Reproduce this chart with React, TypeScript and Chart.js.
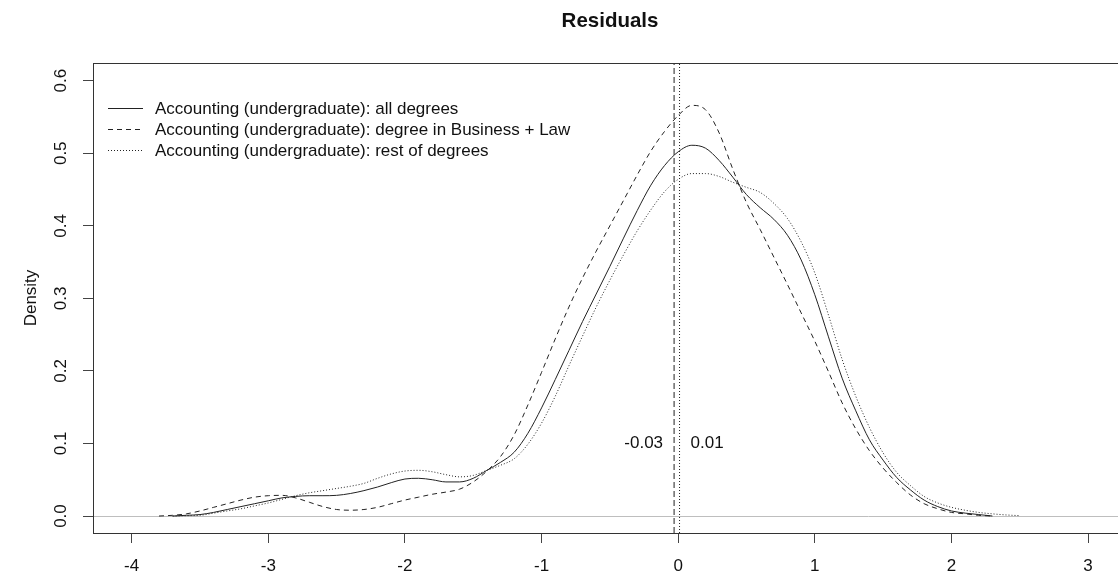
import React, { useEffect, useRef } from "react";
import { Chart, registerables } from "chart.js";

Chart.register(...registerables);

const titleText = "Residuals";
const yAxisTitle = "Density";
const xTicks = [-4, -3, -2, -1, 0, 1, 2, 3];
const yTicks = [0, 0.1, 0.2, 0.3, 0.4, 0.5, 0.6];
const xRange = [-4.283, 3.285];
const yRange = [-0.0234, 0.6244];

const seriesNames = [
  "Accounting (undergraduate): all degrees",
  "Accounting (undergraduate): degree in Business + Law",
  "Accounting (undergraduate): rest of degrees",
];

const xs = [
  -3.8, -3.7, -3.6, -3.5, -3.4, -3.3, -3.2, -3.1, -3.0, -2.9, -2.8, -2.7, -2.6, -2.5, -2.4, -2.3,
  -2.2, -2.1, -2.0, -1.9, -1.8, -1.7, -1.6, -1.5, -1.4, -1.3, -1.2, -1.1, -1.0, -0.9, -0.8, -0.7,
  -0.6, -0.5, -0.4, -0.3, -0.2, -0.1, 0.0, 0.1, 0.2, 0.3, 0.4, 0.5, 0.6, 0.7, 0.8, 0.9,
  1.0, 1.1, 1.2, 1.3, 1.4, 1.5, 1.6, 1.7, 1.8, 1.9, 2.0, 2.1, 2.2, 2.3, 2.4, 2.5,
];

const allDegrees = [
  null, 0.0, 0.001, 0.002, 0.005, 0.009, 0.013, 0.017, 0.021, 0.025, 0.027, 0.028, 0.028, 0.0285, 0.031, 0.035,
  0.04, 0.046, 0.051, 0.052, 0.05, 0.047, 0.047, 0.052, 0.063, 0.074, 0.088, 0.114, 0.149, 0.188, 0.228, 0.268,
  0.306, 0.344, 0.383, 0.421, 0.456, 0.483, 0.502, 0.511, 0.507, 0.49, 0.467, 0.443, 0.425, 0.409, 0.387, 0.353,
  0.305, 0.247, 0.19, 0.145, 0.105, 0.077, 0.053, 0.036, 0.022, 0.013, 0.007, 0.004, 0.002, 0.0, null, null,
];

const businessLaw = [
  0.0, 0.001, 0.003, 0.007, 0.012, 0.017, 0.022, 0.026, 0.028, 0.0285, 0.025, 0.019, 0.013, 0.009, 0.008, 0.009,
  0.012, 0.017, 0.022, 0.026, 0.03, 0.033, 0.037, 0.047, 0.062, 0.082, 0.112, 0.153, 0.198, 0.244, 0.288, 0.328,
  0.365, 0.4, 0.435, 0.47, 0.503, 0.53, 0.552, 0.566, 0.56, 0.528, 0.478, 0.432, 0.395, 0.357, 0.319, 0.28,
  0.241, 0.199, 0.156, 0.12, 0.09, 0.066, 0.046, 0.029, 0.017, 0.01, 0.005, 0.003, 0.001, 0.0, null, null,
];

const restDegrees = [
  null, 0.0, 0.0005, 0.001, 0.004, 0.007, 0.01, 0.014, 0.018, 0.023, 0.028, 0.032, 0.035, 0.038, 0.041, 0.045,
  0.052, 0.058, 0.062, 0.063, 0.061, 0.057, 0.054, 0.056, 0.063, 0.07, 0.079, 0.099, 0.128, 0.165, 0.207, 0.248,
  0.288, 0.325, 0.36, 0.393, 0.422, 0.447, 0.464, 0.472, 0.472, 0.468, 0.46, 0.453, 0.446, 0.431, 0.41, 0.378,
  0.335, 0.277, 0.216, 0.165, 0.122, 0.087, 0.06, 0.042, 0.027, 0.018, 0.012, 0.008, 0.005, 0.003, 0.0015, 0.0005,
];

const meanValues = [-0.03, 0.01];
const meanLabels = ["-0.03", "0.01"];
const meanLabelY = 0.1;

const FONT = "'Liberation Sans', Arial, Helvetica, sans-serif";
const LINE = "#222";
const dashes = [[], [5, 4], [1, 2]];

function toPoints(vals: (number | null)[]) {
  return xs.map((x, i) => ({ x, y: vals[i] }));
}

const decorPlugin = {
  id: "decor",
  beforeDatasetsDraw(chart: any) {
    const { ctx, chartArea, scales } = chart;
    const y0 = Math.round(scales.y.getPixelForValue(0)) + 0.5;
    ctx.save();
    ctx.strokeStyle = "#bebebe";
    ctx.lineWidth = 1;
    ctx.beginPath();
    ctx.moveTo(chartArea.left, y0);
    ctx.lineTo(chartArea.right, y0);
    ctx.stroke();
    ctx.restore();
  },
  afterDraw(chart: any) {
    const { ctx, chartArea, scales } = chart;
    const { left, top, right, bottom } = chartArea;
    ctx.save();
    ctx.strokeStyle = "#333";
    ctx.lineWidth = 1;
    ctx.strokeRect(Math.round(left) + 0.5, Math.round(top) + 0.5, Math.round(right - left), Math.round(bottom - top));

    ctx.fillStyle = "#111";
    ctx.font = `bold 20.5px ${FONT}`;
    ctx.textAlign = "center";
    ctx.textBaseline = "middle";
    ctx.fillText(titleText, (left + right) / 2, 21);

    ctx.font = `17px ${FONT}`;
    yTicks.forEach((v) => {
      const py = scales.y.getPixelForValue(v);
      ctx.save();
      ctx.translate(61, py);
      ctx.rotate(-Math.PI / 2);
      ctx.textAlign = "center";
      ctx.textBaseline = "middle";
      ctx.fillText(v.toFixed(1), 0, 0);
      ctx.restore();
    });

    ctx.save();
    ctx.translate(31, (top + bottom) / 2);
    ctx.rotate(-Math.PI / 2);
    ctx.textAlign = "center";
    ctx.textBaseline = "middle";
    ctx.font = `17px ${FONT}`;
    ctx.fillText(yAxisTitle, 0, 0);
    ctx.restore();

    const legX0 = left + 15;
    const legX1 = left + 50;
    const legTextX = left + 62;
    seriesNames.forEach((name, i) => {
      const ly = top + 45 + i * 21;
      ctx.save();
      ctx.strokeStyle = LINE;
      ctx.lineWidth = 1;
      ctx.setLineDash(dashes[i]);
      ctx.beginPath();
      ctx.moveTo(legX0, Math.round(ly) + 0.5);
      ctx.lineTo(legX1, Math.round(ly) + 0.5);
      ctx.stroke();
      ctx.restore();
      ctx.textAlign = "left";
      ctx.textBaseline = "middle";
      ctx.font = `17px ${FONT}`;
      ctx.fillText(name, legTextX, ly + 1);
    });

    const ly = scales.y.getPixelForValue(meanLabelY);
    ctx.font = `17px ${FONT}`;
    ctx.textBaseline = "middle";
    ctx.textAlign = "right";
    ctx.fillText(meanLabels[0], scales.x.getPixelForValue(meanValues[0]) - 11, ly);
    ctx.textAlign = "left";
    ctx.fillText(meanLabels[1], scales.x.getPixelForValue(meanValues[1]) + 11, ly);
    ctx.restore();
  },
};

export default function App() {
  const ref = useRef<HTMLCanvasElement>(null);
  useEffect(() => {
    if (!ref.current) return;
    const chart = new Chart(ref.current, {
      type: "scatter",
      data: {
        datasets: [
          {
            label: seriesNames[0],
            data: toPoints(allDegrees),
            showLine: true,
            borderColor: LINE,
            borderWidth: 1,
            pointRadius: 0,
            cubicInterpolationMode: "monotone",
            spanGaps: false,
          },
          {
            label: seriesNames[1],
            data: toPoints(businessLaw),
            showLine: true,
            borderColor: LINE,
            borderWidth: 1,
            borderDash: dashes[1],
            pointRadius: 0,
            cubicInterpolationMode: "monotone",
            spanGaps: false,
          },
          {
            label: seriesNames[2],
            data: toPoints(restDegrees),
            showLine: true,
            borderColor: LINE,
            borderWidth: 1,
            borderDash: dashes[2],
            pointRadius: 0,
            cubicInterpolationMode: "monotone",
            spanGaps: false,
          },
          {
            label: "mean1",
            data: [
              { x: meanValues[0], y: yRange[0] },
              { x: meanValues[0], y: yRange[1] },
            ],
            showLine: true,
            borderColor: LINE,
            borderWidth: 1,
            borderDash: [6, 3],
            pointRadius: 0,
          },
          {
            label: "mean2",
            data: [
              { x: meanValues[1], y: yRange[0] },
              { x: meanValues[1], y: yRange[1] },
            ],
            showLine: true,
            borderColor: LINE,
            borderWidth: 1,
            borderDash: [1, 2],
            pointRadius: 0,
          },
        ],
      },
      options: {
        responsive: false,
        animation: false,
        layout: { padding: { top: 63, right: 8, left: 0, bottom: 0 } },
        plugins: {
          legend: { display: false },
          tooltip: { enabled: false },
          title: { display: false },
        },
        scales: {
          x: {
            type: "linear",
            min: xRange[0],
            max: xRange[1],
            afterBuildTicks: (scale: any) => {
              scale.ticks = xTicks.map((v) => ({ value: v }));
            },
            afterFit: (scale: any) => {
              scale.height = 42;
            },
            border: { display: false },
            grid: { drawOnChartArea: false, drawTicks: true, tickLength: 10, color: "#444" },
            ticks: {
              color: "#111",
              font: { size: 17, family: FONT },
              padding: 13,
              maxRotation: 0,
              autoSkip: false,
              callback: (v: any) => String(v),
            },
          },
          y: {
            type: "linear",
            min: yRange[0],
            max: yRange[1],
            afterBuildTicks: (scale: any) => {
              scale.ticks = yTicks.map((v) => ({ value: v }));
            },
            afterFit: (scale: any) => {
              scale.width = 93;
            },
            border: { display: false },
            grid: { drawOnChartArea: false, drawTicks: true, tickLength: 10, color: "#444" },
            ticks: { display: false },
          },
        },
      },
      plugins: [decorPlugin],
    });
    return () => chart.destroy();
  }, []);

  return (
    <div
      style={{
        position: "fixed",
        left: 0,
        top: 0,
        width: 1118,
        height: 575,
        overflow: "hidden",
        background: "#fff",
      }}
    >
      <canvas ref={ref} width={1135} height={575} style={{ display: "block" }} />
    </div>
  );
}
